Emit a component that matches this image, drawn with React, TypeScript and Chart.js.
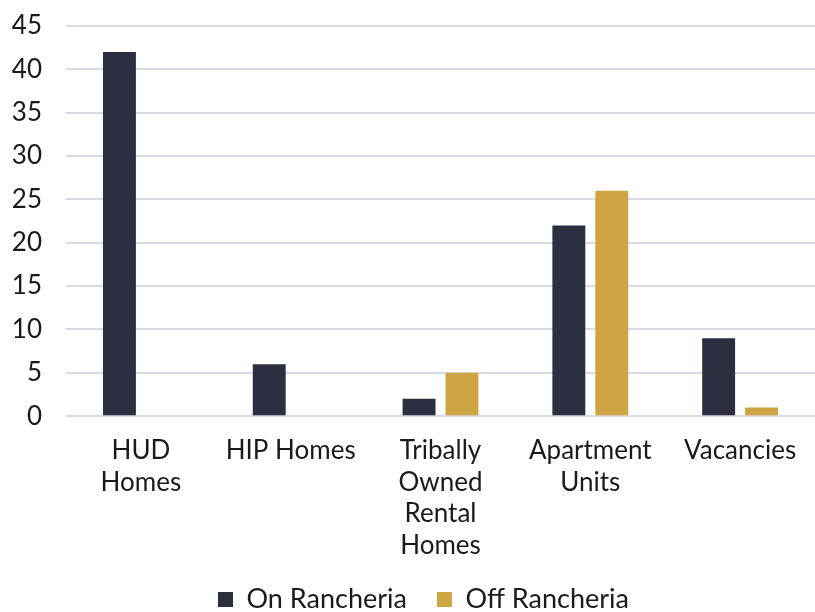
import React, { useEffect, useRef } from "react";
import { Chart, registerables } from "chart.js";

Chart.register(...registerables);

const categories: string[][] = [
  ["HUD", "Homes"],
  ["HIP Homes"],
  ["Tribally", "Owned", "Rental", "Homes"],
  ["Apartment", "Units"],
  ["Vacancies"],
];
const onRancheria: number[] = [42, 6, 2, 22, 9];
const offRancheria: number[] = [0, 0, 5, 26, 1];
const seriesNames: string[] = ["On Rancheria", "Off Rancheria"];

const FONT = "Lato, 'Noto Sans', sans-serif";

const LEGEND_SHRINK = 35;
const LEGEND_LIFT = 24;
const LEGEND_DX = 16;

const legendShift = {
  id: "legendShift",
  afterInit(chart: any) {
    const lg = chart.legend;
    if (!lg) return;
    const origFit = lg.fit.bind(lg);
    lg.fit = function () {
      origFit();
      this.height = this.height - LEGEND_SHRINK;
    };
    const origDraw = lg.draw.bind(lg);
    lg.draw = function () {
      const t = this.top;
      const l = this.left;
      const r = this.right;
      this.top = t - LEGEND_LIFT;
      this.left = l + LEGEND_DX;
      this.right = r + LEGEND_DX;
      origDraw();
      this.top = t;
      this.left = l;
      this.right = r;
    };
  },
};

export default function App() {
  const ref = useRef<HTMLCanvasElement | null>(null);
  useEffect(() => {
    if (!ref.current) return;
    const chart = new Chart(ref.current, {
      type: "bar",
      data: {
        labels: categories,
        datasets: [
          {
            label: seriesNames[0],
            data: onRancheria,
            backgroundColor: "#2b2f3f",
            borderWidth: 0,
            categoryPercentage: 0.573,
            barPercentage: 0.767,
          },
          {
            label: seriesNames[1],
            data: offRancheria,
            backgroundColor: "#cda643",
            borderWidth: 0,
            categoryPercentage: 0.573,
            barPercentage: 0.767,
          },
        ],
      },
      options: {
        animation: false,
        responsive: false,
        maintainAspectRatio: false,
        layout: { padding: { top: 26, right: 0, left: 0, bottom: 0 } },
        plugins: {
          legend: {
            position: "bottom",
            labels: {
              color: "#1a1a1a",
              font: { family: FONT, size: 27 },
              boxWidth: 15,
              boxHeight: 15,
              padding: 30,
            },
          },
          tooltip: { enabled: false },
        },
        scales: {
          x: {
            grid: { display: false },
            border: { display: false },
            ticks: {
              color: "#1a1a1a",
              font: { family: FONT, size: 26, lineHeight: 1.21 },
              maxRotation: 0,
              autoSkip: false,
              padding: 11,
            },
            afterFit(scale: any) {
              scale.paddingLeft = 0;
              scale.paddingRight = 0;
              scale.height = scale.height + 8;
            },
          },
          y: {
            min: 0,
            max: 45,
            grid: { color: "#d9d9e3", lineWidth: 2, drawTicks: false },
            border: { display: false },
            ticks: {
              stepSize: 5,
              color: "#1a1a1a",
              font: { family: FONT, size: 26 },
              padding: 24,
            },
            afterFit(scale: any) {
              scale.paddingTop = 0;
              scale.paddingBottom = 0;
              scale.width = 66;
            },
          },
        },
      },
      plugins: [legendShift],
    });
    return () => chart.destroy();
  }, []);
  return (
    <div style={{ position: "fixed", left: 0, top: 0, width: 815, height: 612, background: "#fff" }}>
      <canvas ref={ref} width={815} height={612} style={{ width: 815, height: 612 }} />
    </div>
  );
}
